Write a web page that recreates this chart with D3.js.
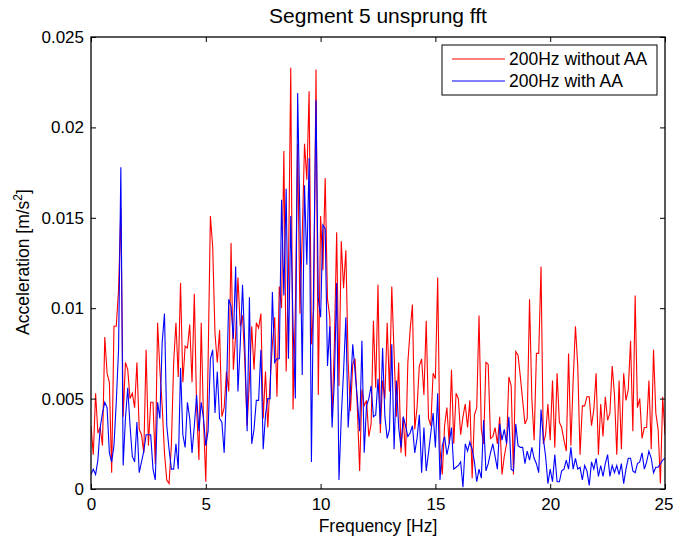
<!DOCTYPE html>
<html>
<head>
<meta charset="utf-8">
<script src="https://cdn.jsdelivr.net/npm/d3@7"></script>
<style>
  html, body { margin: 0; padding: 0; background: #fff; }
  svg { display: block; font-family: "Liberation Sans", Arial, Helvetica, sans-serif; }
</style>
</head>
<body>
<svg id="chart" width="673" height="544"></svg>
<script>
// ---- data (acceleration in units of 0.001 m/s^2, bins of 0.1 Hz from 0 to 25 Hz) ----
const binWidthHz = 0.1;
const seriesNames = ["200Hz without AA", "200Hz with AA"];
const xTickValues = [0, 5, 10, 15, 20, 25];
const yTickValues = [0, 0.005, 0.01, 0.015, 0.02, 0.025];
const yTickLabels = ["0", "0.005", "0.01", "0.015", "0.02", "0.025"];

const withoutAA_milli = [
  3.5, 1.9, 5.3, 3.1, 3.4, 2.4, 8.4, 6.4, 5.9, 0.9,
  9.0, 9.0, 11.0, 15.5, 4.0, 7.0, 6.6, 5.0, 5.3, 4.5,
  7.0, 3.3, 3.0, 2.0, 7.7, 2.4, 4.8, 4.8, 1.4, 9.2,
  6.6, 4.6, 2.0, 0.5, 0.3, 2.4, 7.0, 9.2, 6.2, 11.4,
  5.9, 7.9, 7.8, 9.1, 5.9, 10.8, 4.5, 1.6, 9.2, 3.8,
  0.4, 7.0, 15.1, 13.4, 8.6, 7.0, 8.8, 4.0, 4.5, 6.5,
  5.4, 13.6, 6.6, 8.5, 11.7, 9.0, 9.6, 7.0, 3.5, 6.0,
  9.0, 6.6, 9.2, 8.9, 9.7, 3.9, 6.5, 3.4, 5.9, 8.0,
  9.5, 5.1, 11.2, 10.0, 18.7, 6.5, 12.0, 23.3, 4.4, 10.0,
  19.1, 9.7, 14.0, 19.1, 17.1, 22.0, 8.0, 10.0, 23.2, 5.2,
  15.1, 12.1, 17.2, 10.5, 9.5, 4.0, 8.0, 14.2, 5.7, 13.7,
  11.1, 13.2, 7.0, 4.3, 6.9, 7.2, 4.5, 1.0, 5.5, 4.6,
  4.9, 2.9, 3.6, 9.3, 5.6, 11.3, 3.1, 6.0, 5.0, 9.2,
  5.4, 11.2, 7.5, 4.0, 7.0, 2.0, 4.0, 1.8, 7.0, 8.8,
  10.2, 3.3, 4.5, 6.8, 7.2, 5.2, 9.3, 3.9, 3.5, 6.4,
  6.1, 11.7, 2.2, 0.8, 3.5, 4.5, 2.5, 6.6, 2.5, 5.3,
  5.0, 3.0, 4.0, 4.7, 3.4, 4.9, 0.6, 4.1, 4.5, 9.6,
  3.3, 2.5, 7.0, 6.9, 2.8, 2.9, 3.4, 2.5, 4.0, 0.8,
  1.8, 2.5, 6.2, 5.7, 0.8, 7.6, 7.4, 6.2, 4.9, 3.6,
  3.9, 10.5, 5.0, 2.7, 7.5, 7.5, 12.3, 2.5, 3.0, 4.7,
  2.7, 6.0, 2.3, 6.4, 3.7, 3.4, 2.7, 2.1, 7.5, 2.4,
  6.0, 9.0, 6.8, 1.9, 4.6, 4.6, 5.1, 5.1, 3.5, 4.4,
  6.4, 1.9, 4.7, 2.9, 5.1, 3.8, 4.2, 6.8, 5.2, 1.9,
  6.0, 2.2, 6.4, 4.9, 5.5, 8.2, 3.2, 10.7, 4.5, 5.0,
  2.8, 3.4, 3.4, 6.0, 2.2, 7.7, 4.2, 3.3, 0.3, 5.1,
  3.0
];

const withAA_milli = [
  0.8, 1.1, 0.8, 1.6, 3.4, 4.2, 4.8, 4.5, 2.0, 1.5,
  2.4, 4.8, 7.7, 17.8, 1.3, 3.9, 5.6, 3.5, 1.8, 1.5,
  3.7, 0.9, 1.5, 2.1, 3.0, 3.0, 3.0, 1.1, 0.5, 4.8,
  3.9, 8.1, 9.7, 3.5, 2.2, 1.1, 1.1, 2.5, 1.1, 6.7,
  3.0, 2.3, 4.8, 3.9, 2.0, 3.5, 5.2, 3.2, 4.8, 3.9,
  2.4, 3.2, 7.2, 7.7, 4.2, 6.5, 3.9, 3.7, 2.0, 5.4,
  10.5, 10.1, 8.3, 12.3, 5.4, 8.0, 11.3, 7.9, 3.2, 10.6,
  2.5, 3.3, 4.9, 4.9, 7.7, 2.2, 4.1, 5.0, 5.0, 10.9,
  7.0, 7.2, 7.2, 16.0, 10.7, 16.6, 7.2, 15.1, 9.0, 5.0,
  21.9, 14.9, 6.3, 16.8, 12.4, 18.3, 1.5, 12.0, 21.5, 10.5,
  9.5, 14.6, 14.4, 6.8, 9.0, 3.4, 6.0, 11.4, 0.5, 4.0,
  6.5, 9.5, 3.4, 5.5, 8.0, 6.5, 5.0, 3.2, 8.2, 2.0,
  4.6, 5.0, 5.7, 4.0, 4.1, 6.1, 3.6, 7.8, 4.0, 2.8,
  3.3, 8.0, 2.2, 6.0, 3.4, 2.3, 4.0, 3.5, 2.9, 3.1,
  3.5, 2.0, 2.8, 4.1, 0.9, 3.4, 1.0, 2.0, 3.1, 4.2,
  2.3, 5.3, 0.5, 2.4, 2.9, 1.9, 2.5, 3.4, 1.1, 1.2,
  1.3, 1.5, 0.1, 2.5, 2.1, 2.6, 2.2, 1.5, 0.4, 1.1,
  0.6, 3.8, 1.0, 1.4, 2.0, 2.5, 1.8, 1.1, 3.6, 2.7,
  3.3, 2.5, 4.0, 1.1, 1.0, 3.6, 2.4, 2.3, 2.3, 1.4,
  2.1, 1.6, 2.3, 1.7, 1.4, 0.9, 4.4, 2.8, 1.8, 0.3,
  1.1, 0.4, 1.9, 0.4, 0.4, 1.0, 1.1, 1.6, 1.1, 2.3,
  1.1, 1.7, 1.1, 1.2, 0.5, 1.3, 1.0, 0.2, 1.5, 1.1,
  1.7, 0.7, 1.3, 0.7, 1.4, 1.9, 0.7, 1.3, 0.9, 1.3,
  0.8, 1.4, 0.3, 1.1, 1.7, 1.7, 1.0, 0.9, 1.4, 1.5,
  2.0, 1.1, 1.5, 2.1, 1.7, 0.9, 1.2, 1.2, 1.4, 1.6,
  1.7
];

// ---- layout ----
const svg = d3.select("#chart");
const plotLeft = 91, plotRight = 665, plotTop = 37, plotBottom = 489;
const fontFam = "'Liberation Sans', Arial, Helvetica, sans-serif";

const x = d3.scaleLinear().domain([0, 25]).range([plotLeft, plotRight]);
const y = d3.scaleLinear().domain([0, 0.025]).range([plotBottom, plotTop]);

const toPoints = arr => arr.map((v, i) => ({ f: i * binWidthHz, a: v / 1000 }));
const series = [
  { name: seriesNames[0], color: "#ff0000", pts: toPoints(withoutAA_milli) },
  { name: seriesNames[1], color: "#0000ff", pts: toPoints(withAA_milli) }
];

svg.append("rect").attr("x", 0).attr("y", 0).attr("width", 673).attr("height", 544).attr("fill", "#fff");

svg.append("clipPath").attr("id", "clip")
  .append("rect").attr("x", plotLeft).attr("y", plotTop)
  .attr("width", plotRight - plotLeft).attr("height", plotBottom - plotTop);

const line = d3.line().x(d => x(d.f)).y(d => y(d.a));
const g = svg.append("g").attr("clip-path", "url(#clip)");
series.forEach(s => {
  g.append("path").datum(s.pts)
    .attr("d", line)
    .attr("fill", "none")
    .attr("stroke", s.color)
    .attr("stroke-width", 1.1)
    .attr("stroke-linejoin", "miter");
});

const fmtY = d => yTickLabels[yTickValues.indexOf(d)];
const axB = svg.append("g").attr("transform", `translate(0,${plotBottom})`)
  .call(d3.axisBottom(x).tickValues(xTickValues).tickSizeInner(-5).tickSizeOuter(0).tickPadding(9).tickFormat(d3.format("d")));
const axT = svg.append("g").attr("transform", `translate(0,${plotTop})`)
  .call(d3.axisTop(x).tickValues(xTickValues).tickSizeInner(-5).tickSizeOuter(0).tickFormat(""));
const axL = svg.append("g").attr("transform", `translate(${plotLeft},0)`)
  .call(d3.axisLeft(y).tickValues(yTickValues).tickSizeInner(-5).tickSizeOuter(0).tickPadding(7).tickFormat(fmtY));
const axR = svg.append("g").attr("transform", `translate(${plotRight},0)`)
  .call(d3.axisRight(y).tickValues(yTickValues).tickSizeInner(-5).tickSizeOuter(0).tickFormat(""));

[axB, axT, axL, axR].forEach(a => {
  a.select(".domain").remove();
  a.selectAll(".tick line").attr("stroke", "#000").attr("stroke-width", 1);
  a.selectAll("text").attr("fill", "#000").style("font-size", "17px")
    .style("font-family", fontFam);
});
// keep the last x tick label inside the canvas, as in the reference
axB.selectAll(".tick text").filter(d => d === 25).attr("text-anchor", "end").attr("x", 8);

svg.append("rect").attr("x", plotLeft).attr("y", plotTop)
  .attr("width", plotRight - plotLeft).attr("height", plotBottom - plotTop)
  .attr("fill", "none").attr("stroke", "#000").attr("stroke-width", 1.3);

svg.append("text").attr("x", (plotLeft + plotRight) / 2).attr("y", 22.5)
  .attr("text-anchor", "middle").style("font-size", "21px").attr("fill", "#000")
  .text("Segment 5 unsprung fft");

svg.append("text").attr("x", (plotLeft + plotRight) / 2).attr("y", 532)
  .attr("text-anchor", "middle").style("font-size", "17.5px").attr("fill", "#000")
  .text("Frequency [Hz]");

const yl = svg.append("text")
  .attr("transform", `translate(29,${(plotTop + plotBottom) / 2 - 1}) rotate(-90)`)
  .attr("text-anchor", "middle").style("font-size", "17.5px").attr("fill", "#000");
yl.append("tspan").text("Acceleration [m/s");
yl.append("tspan").attr("dy", -7).style("font-size", "12px").text("2");
yl.append("tspan").attr("dy", 7).text("]");

const lg = svg.append("g");
lg.append("rect").attr("x", 442).attr("y", 45).attr("width", 215).attr("height", 50)
  .attr("fill", "#fff").attr("stroke", "#000").attr("stroke-width", 1);
series.forEach((s, i) => {
  const yy = 59 + i * 22;
  lg.append("line").attr("x1", 452).attr("x2", 505).attr("y1", yy).attr("y2", yy)
    .attr("stroke", s.color).attr("stroke-width", 1.1);
  lg.append("text").attr("x", 509).attr("y", yy + 6.3)
    .style("font-size", "17.5px").attr("fill", "#000").text(s.name);
});
</script>
</body>
</html>
